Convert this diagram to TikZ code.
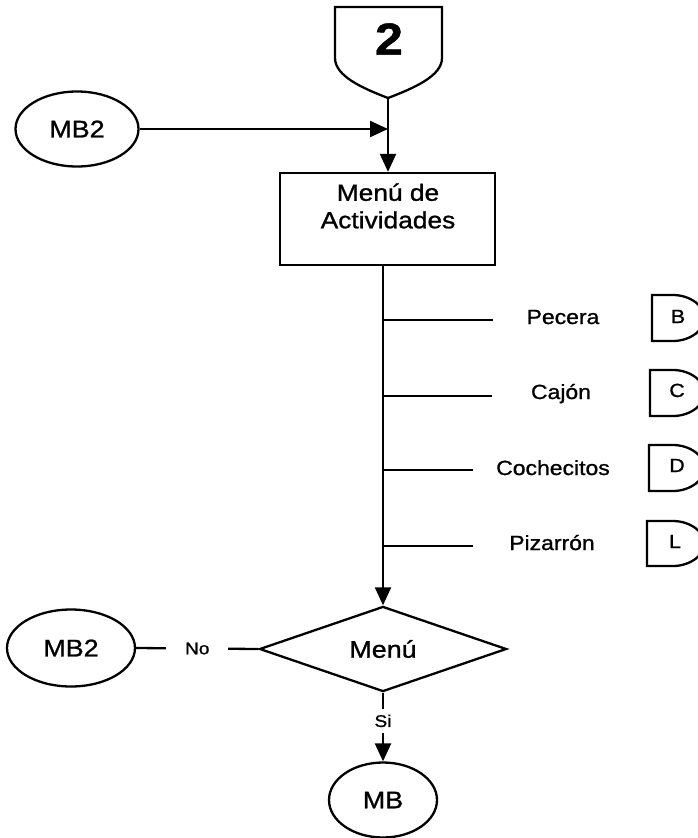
\documentclass[tikz,border=0pt]{standalone}
\usepackage{fontspec}
\setmainfont[FakeStretch=1.12,FakeBold=1]{Liberation Sans}
\usetikzlibrary{arrows.meta,shapes.geometric}
\newcommand\tabD[3]{%
  \draw (#1,#2) -- (673,#2) .. controls (691,#2) and (705,{#2+12}) .. (705,{(#2+#3)/2})
    .. controls (705,{#3-12}) and (691,#3) .. (673,#3) -- (#1,#3) -- cycle;}
\begin{document}
\begin{tikzpicture}[x=1pt,y=-1pt,
  line width=2.3pt,
  arr/.style={-{Triangle[length=18pt,width=16pt]}},
  term/.style={draw,ellipse,inner sep=0pt,font=\fontsize{24}{28}\selectfont},
  lbl/.style={font=\fontsize{20.5}{24}\selectfont,anchor=base,inner sep=0pt},
  tabtxt/.style={font=\fontsize{19}{22}\selectfont,anchor=base,inner sep=0pt},
  ynfont/.style={fill=white,font=\fontsize{17}{20}\selectfont}
]
\useasboundingbox (0,0) rectangle (698,838);
\fill[white] (0,0) rectangle (698,838);
\clip (0,0) rectangle (698,838);

% off-page connector 2
\draw (335,7) -- (442,7) -- (442,58) .. controls (442,76) and (414,88) .. (388,98)
  .. controls (362,88) and (335,76) .. (335,58) -- cycle;
\coordinate (c2bot) at (388,98);
\node[font=\fontsize{45}{50}\selectfont\bfseries,inner sep=0pt] (n2) at (389,39) {2};

% entry MB2
\node[term,minimum width=123pt,minimum height=75pt] (mb2a) at (77,129) {MB2};
\coordinate (j1) at (388,129);
\draw[arr] (mb2a) -- (j1);

% process box
\node[draw,minimum width=215pt,minimum height=92pt,inner sep=0pt] (box) at (387.5,219) {};
\node[align=center,inner sep=0pt,font=\fontsize{23.5}{27.5}\selectfont] (boxtxt) at (388,206) {Menú de\\Actividades};
\draw[arr] (c2bot) -- (box.north -| c2bot);

% decision
\node[draw,diamond,minimum width=247pt,minimum height=76pt,inner sep=0pt,
  font=\fontsize{24}{28}\selectfont] (dia) at (383,649) {Menú};
\draw[arr] (box.south -| dia.north) -- (dia.north);

% branches
\coordinate (b1) at (383,320); \coordinate (e1) at (493,320);
\coordinate (b2) at (383,396); \coordinate (e2) at (492,396);
\coordinate (b3) at (383,470); \coordinate (e3) at (473,470);
\coordinate (b4) at (383,546); \coordinate (e4) at (473,546);
\draw (b1) -- (e1);
\draw (b2) -- (e2);
\draw (b3) -- (e3);
\draw (b4) -- (e4);
\node[lbl] (pecera) at (563,324) {Pecera};
\node[lbl] (cajon) at (561,399) {Cajón};
\node[lbl] (coche) at (553,475) {Cochecitos};
\node[lbl] (piza) at (552,550) {Pizarrón};

% connector tabs
\tabD{652}{295}{341}
\tabD{650}{370}{416}
\tabD{649}{445}{491}
\tabD{647}{521}{566}
\node[tabtxt] (tb) at (678,323) {B};
\node[tabtxt] (tc) at (677,397) {C};
\node[tabtxt] (td) at (677,472) {D};
\node[tabtxt] (tl) at (675,548) {L};

% outputs
\node[term,minimum width=128pt,minimum height=77pt] (mb2b) at (71,648) {MB2};
\draw (dia.west) -- node[ynfont,inner xsep=19pt,inner ysep=4pt] (no) {No} (mb2b.east);
\node[term,minimum width=108pt,minimum height=75pt] (mb) at (383,800) {MB};
\draw[arr] (dia.south) -- node[ynfont,pos=0.41,inner xsep=4pt,inner ysep=6pt] (si) {Si} (mb.north);
\end{tikzpicture}
\end{document}
